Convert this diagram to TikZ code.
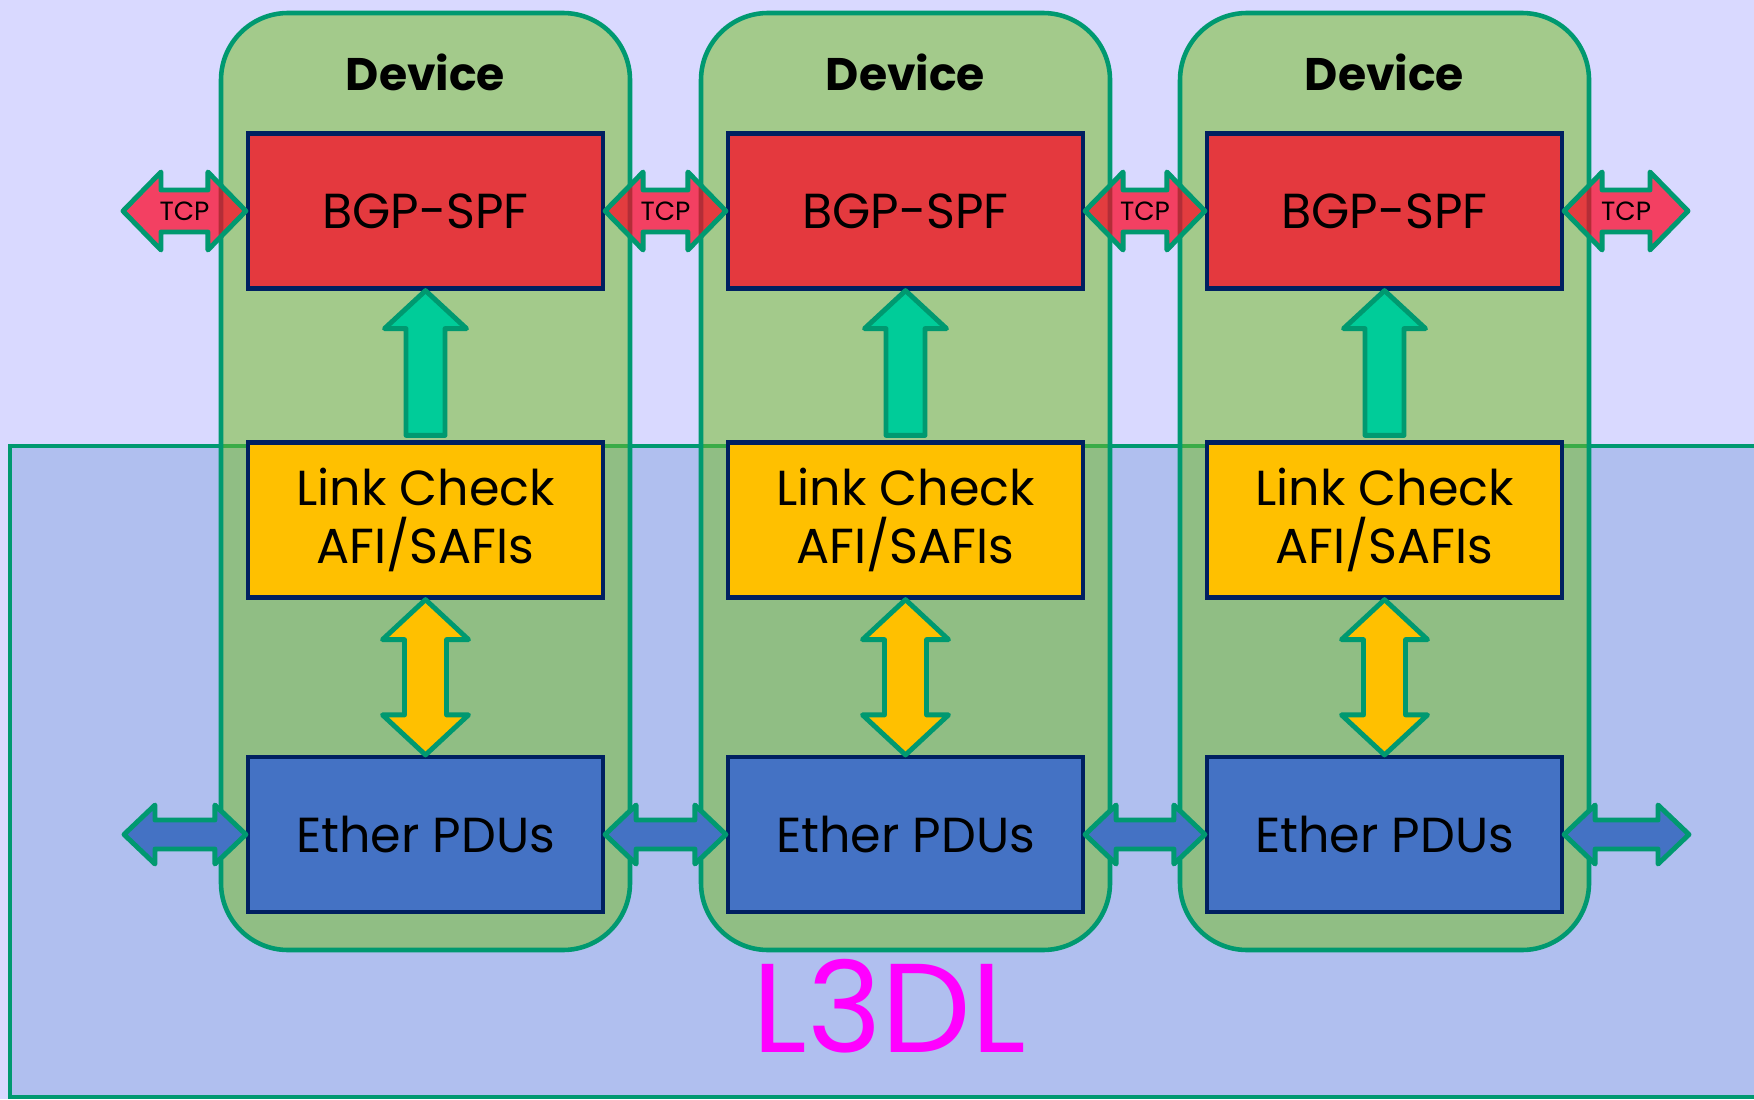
\documentclass[tikz,border=0pt]{standalone}
\usepackage{fontspec}
\setmainfont{Poppins}
\usetikzlibrary{calc}
\definecolor{bgc}{RGB}{217,217,255}
\definecolor{lfill}{RGB}{176,191,239}
\definecolor{gline}{RGB}{0,153,112}
\definecolor{devfill}{RGB}{115,190,34}
\definecolor{bgpred}{RGB}{228,57,62}
\definecolor{lcyel}{RGB}{255,192,0}
\definecolor{ethblue}{RGB}{68,114,196}
\definecolor{navyb}{RGB}{0,32,96}
\definecolor{upteal}{RGB}{0,204,153}
\definecolor{tcpred}{RGB}{255,0,32}
\definecolor{lmag}{RGB}{255,0,255}
% horizontal double arrow: style, from, to, head length, head half-width, shaft half-width
\newcommand\hdblarrow[6]{%
  \path[#1] let \p1=(#2), \p2=(#3) in
   (\x1,\y1) -- (\x1+#4,\y1+#5) -- (\x1+#4,\y1+#6) -- (\x2-#4,\y1+#6) -- (\x2-#4,\y1+#5)
   -- (\x2,\y1) -- (\x2-#4,\y1-#5) -- (\x2-#4,\y1-#6) -- (\x1+#4,\y1-#6) -- (\x1+#4,\y1-#5) -- cycle;}
% vertical double arrow: style, top, bottom, head length, head half-width, shaft half-width
\newcommand\vdblarrow[6]{%
  \path[#1] let \p1=(#2), \p2=(#3) in
   (\x1,\y1) -- (\x1+#5,\y1-#4) -- (\x1+#6,\y1-#4) -- (\x1+#6,\y2+#4) -- (\x1+#5,\y2+#4)
   -- (\x1,\y2) -- (\x1-#5,\y2+#4) -- (\x1-#6,\y2+#4) -- (\x1-#6,\y1-#4) -- (\x1-#5,\y1-#4) -- cycle;}
% up arrow: style, bottom, tip, head length, head half-width, shaft half-width
\newcommand\uparrowshape[6]{%
  \path[#1] let \p1=(#2), \p2=(#3) in
   (\x1-#6,\y1) -- (\x1-#6,\y2-#4) -- (\x1-#5,\y2-#4) -- (\x2,\y2) -- (\x1+#5,\y2-#4)
   -- (\x1+#6,\y2-#4) -- (\x1+#6,\y1) -- cycle;}
\tikzset{
  devbox/.style={draw=gline, line width=1.3pt, fill=devfill, fill opacity=0.52,
    minimum width=40.9mm, minimum height=93.7mm, rounded corners=6.7mm, inner sep=0pt},
  layerbox/.style={draw=navyb, line width=1.2pt, minimum width=35.5mm, minimum height=15.5mm,
    inner sep=0pt, align=center, font=\fontsize{14}{16.5}\selectfont},
  bgpbox/.style={layerbox, fill=bgpred},
  lcbox/.style={layerbox, fill=lcyel},
  ethbox/.style={layerbox, fill=ethblue},
  arrowline/.style={draw=gline, line width=1.4pt, line join=round},
  tcparrow/.style={arrowline, fill=tcpred, fill opacity=0.7},
  etharrow/.style={arrowline, fill=ethblue},
  lcarrow/.style={arrowline, fill=lcyel},
  uparrow/.style={arrowline, fill=upteal},
  devlabel/.style={font=\fontsize{13}{16}\selectfont\bfseries},
  tcplabel/.style={font=\fontsize{7.5}{9}\selectfont, inner sep=0pt},
}
\begin{document}
\begin{tikzpicture}[x=0.1mm, y=-0.1mm]
\useasboundingbox (0,0) rectangle (1754,1099);
\fill[bgc] (0,0) rectangle (1754,1099);
% L3DL region
\fill[lfill] (10,446) rectangle (1754,1097);
\draw[gline, line width=1.2pt] (1754,446) -- (10,446) -- (10,1097) -- (1754,1097);
% devices
\foreach \i/\cx in {1/425.5, 2/905.5, 3/1384.5}{
  \node[devbox] (d\i) at (\cx,481.5) {};
  \node[devlabel] (dl\i) at (\cx,72) {Device};
  \node[bgpbox] (b\i) at (\cx,211) {BGP-SPF};
  \node[lcbox] (l\i) at (\cx,520) {Link Check\\AFI/SAFIs};
  \node[ethbox] (e\i) at (\cx,834.5) {Ether PDUs};
}
% free ends
\coordinate (tcpL) at (123,211);
\coordinate (tcpR) at (1688,211);
\coordinate (ethL) at (124,834.5);
\coordinate (ethR) at (1689,834.5);
% vertical arrows
\foreach \i in {1,2,3}{
  \uparrowshape{uparrow}{$(l\i.north)+(0,-5)$}{b\i.south}{3.8mm}{4.1mm}{1.95mm}
  \vdblarrow{lcarrow}{l\i.south}{e\i.north}{4.0mm}{4.3mm}{2.1mm}
}
% ether arrows
\hdblarrow{etharrow}{ethL}{e1.west}{3.1mm}{2.95mm}{1.45mm}
\hdblarrow{etharrow}{e1.east}{e2.west}{3.1mm}{2.95mm}{1.45mm}
\hdblarrow{etharrow}{e2.east}{e3.west}{3.1mm}{2.95mm}{1.45mm}
\hdblarrow{etharrow}{e3.east}{ethR}{3.1mm}{2.95mm}{1.45mm}
% TCP arrows
\hdblarrow{tcparrow}{tcpL}{b1.west}{3.8mm}{3.9mm}{2.1mm}
\hdblarrow{tcparrow}{b1.east}{b2.west}{3.8mm}{3.9mm}{2.1mm}
\hdblarrow{tcparrow}{b2.east}{b3.west}{3.8mm}{3.9mm}{2.1mm}
\hdblarrow{tcparrow}{b3.east}{tcpR}{3.8mm}{3.9mm}{2.1mm}
\node[tcplabel] (t0) at ($(tcpL)!.5!(b1.west)$) {TCP};
\node[tcplabel] (t1) at ($(b1.east)!.5!(b2.west)$) {TCP};
\node[tcplabel] (t2) at ($(b2.east)!.5!(b3.west)$) {TCP};
\node[tcplabel] (t3) at ($(b3.east)!.5!(tcpR)$) {TCP};
% L3DL label
\node[text=lmag, inner sep=0pt, font=\fontsize{36}{40}\selectfont] (l3dl) at (889,1006) {L3DL};
\end{tikzpicture}
\end{document}
